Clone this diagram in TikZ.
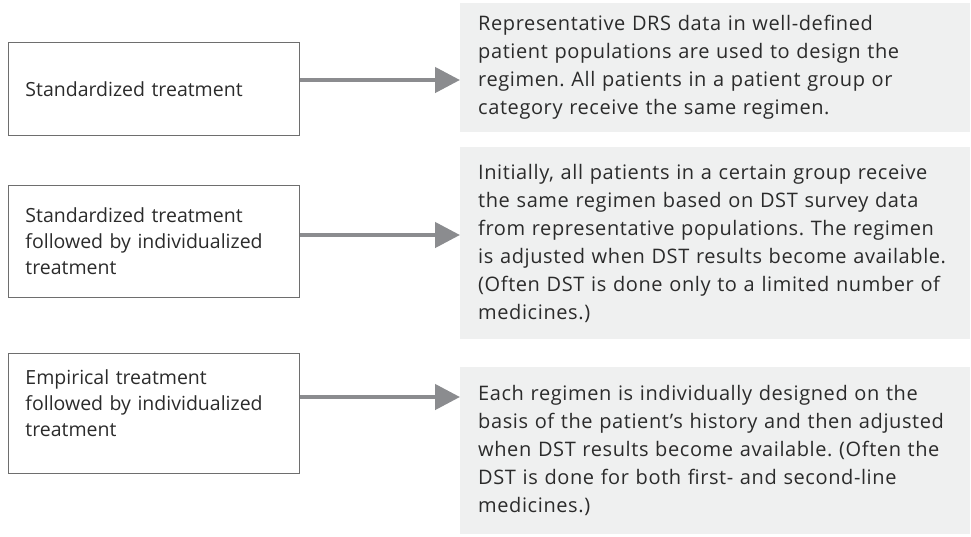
\documentclass[tikz,border=0pt]{standalone}
\usepackage{fontspec}
\setmainfont{Open Sans}
\usetikzlibrary{arrows.meta,positioning}
\frenchspacing
\definecolor{panelgray}{HTML}{EFF0F0}
\definecolor{arrowgray}{HTML}{8B8C8F}
\definecolor{boxline}{HTML}{6E6E6E}
\definecolor{textgray}{HTML}{2B2B2B}

\tikzset{
  treatbox/.style={draw=boxline, line width=0.9pt, text=textgray, text width=257pt,
    align=left, inner xsep=17pt, inner ysep=0pt, minimum height=#1, anchor=north west,
    font=\fontsize{19.5}{26}\selectfont},
  infobox/.style={fill=panelgray, text=textgray, text width=474pt,
    align=left, inner xsep=18pt, inner ysep=0pt, minimum height=#1, anchor=north west,
    font=\fontsize{20}{28}\selectfont\addfontfeatures{LetterSpace=3}},
  flow/.style={draw=arrowgray, line width=4.5pt, -{Triangle[length=25pt,width=25pt]}}
}

\begin{document}
\begin{tikzpicture}[x=1pt, y=-1pt]
          \useasboundingbox (0,0) rectangle (971,536);

          % left column: kinds of treatment
          \node[treatbox=93pt] (std) at (8,42) {Standardized treatment};
          \node[treatbox=112pt] (stdind) at (8,185) {Standardized treatment\\ followed by individualized\\ treatment};
          \node[treatbox=120pt] (empind) at (8,353) {Empirical treatment\\ followed by individualized\\ treatment\\[-6pt]\mbox{}};

          % right column: descriptions
          \node[infobox=129pt] (stdinfo) at (460,3) {Representative DRS data in well-defined\\ patient populations are used to design the\\ regimen. All patients in a patient group or\\ category receive the same regimen.};
          \node[infobox=192pt] (stdindinfo) at (460,147) {Initially, all patients in a certain group receive\\ the same regimen based on DST survey data\\ from representative populations. The regimen\\ is adjusted when DST results become available.\\ (Often DST is done only to a limited number of\\ medicines.)};
          \node[infobox=167pt] (empindinfo) at (460,367) {Each regimen is individually designed on the\\ basis of the patient's history and then adjusted\\ when DST results become available. (Often the\\ DST is done for both first- and second-line\\ medicines.)};

          % arrow heights
          \coordinate (y1) at (0,80);
          \coordinate (y2) at (0,235);
          \coordinate (y3) at (0,397);

          \draw[flow] (std.east |- y1) -- (stdinfo.west |- y1);
          \draw[flow] (stdind.east |- y2) -- (stdindinfo.west |- y2);
          \draw[flow] (empind.east |- y3) -- (empindinfo.west |- y3);
\end{tikzpicture}
\end{document}
